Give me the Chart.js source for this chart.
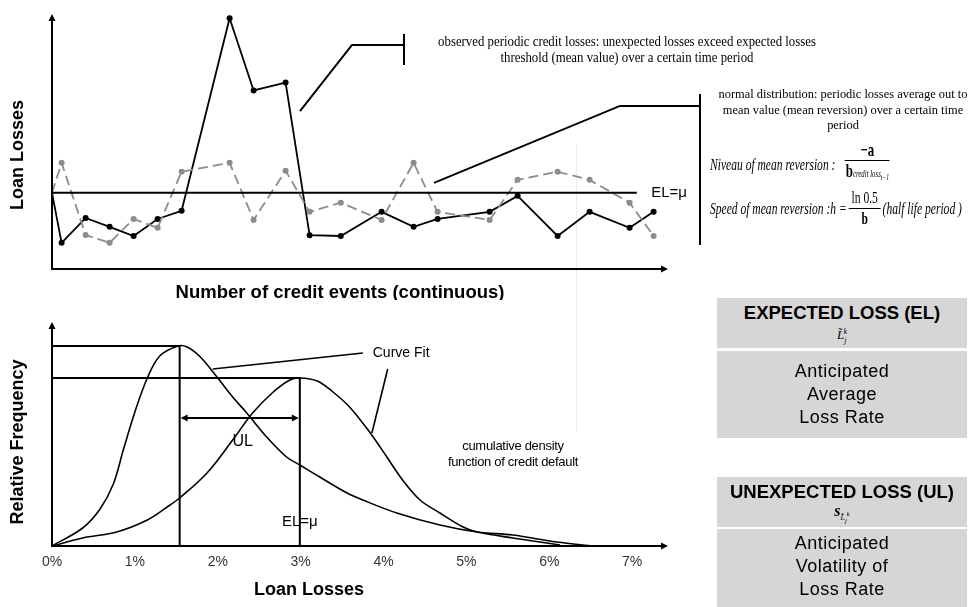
<!DOCTYPE html>
<html lang="en">
<head>
<meta charset="UTF-8">
<title>Expected and unexpected credit loss</title>
<script src="https://cdn.jsdelivr.net/npm/chart.js"></script>
<style>
  body { margin:0; width:980px; height:607px; position:relative; overflow:hidden; background:#fff; color:#000; font-family: Arial, 'Liberation Sans', sans-serif; }
  canvas { position:absolute; left:0; }
  #topChart { top:0; }
  #bottomChart { top:300px; }
  .note { position:absolute; font-family:'Liberation Serif', 'Times New Roman', serif; text-align:center; white-space:nowrap; transform-origin:center top; }
  .formula { position:absolute; left:710px; font: italic 17px 'Liberation Serif', serif; white-space:nowrap; display:flex; align-items:center; transform: scaleX(0.68); transform-origin:left center; }
  .frac { display:inline-flex; flex-direction:column; align-items:center; margin:0 3px; font-style:normal; }
  .frac .num { border-bottom:1.3px solid #000; padding:0 4px 1px; line-height:18px; text-align:center; }
  .frac .den { line-height:20px; }
  .tiny { font-size:10px; font-style:italic; font-weight:normal; }
  .box { position:absolute; left:717px; width:250px; background:#d6d6d6; text-align:center; }
  .head { font-weight:bold; font-size:18.5px; }
  .body { font-size:18px; line-height:23px; letter-spacing:0.5px; }
  .sym { font: italic 13px 'Liberation Serif', serif; line-height:15px; }
  .faint { position:absolute; left:576px; top:145px; width:1px; height:287px; background:#ececec; }
  .cdf { position:absolute; left:428px; top:438px; width:170px; text-align:center; font-size:13px; line-height:16px; letter-spacing:-0.3px; }
</style>
</head>
<body>
<div class="faint"></div>
<canvas id="topChart" width="720" height="300"></canvas>
<canvas id="bottomChart" width="720" height="307"></canvas>

<div class="note" style="left:417px; top:34px; width:420px; font-size:14px; line-height:16px; transform:scaleX(0.915);">
  observed periodic credit losses: unexpected losses exceed expected losses<br>threshold (mean value) over a certain time period
</div>
<div class="note" style="left:703px; top:86px; width:280px; font-size:13.5px; line-height:15.5px; transform:scaleX(0.92);">
  normal distribution: periodic losses average out to<br>mean value (mean reversion) over a certain time<br>period
</div>

<div class="formula" style="top:141px;">
  <span>Niveau of mean reversion :</span>
  <span class="frac" style="margin-left:14px;"><span class="num" style="min-width:58px; font-size:19px;"><b>&minus;a</b></span><span class="den"><b style="font-size:19px;">b</b><span class="tiny">credit loss<sub>t&minus;1</sub></span></span></span>
</div>
<div class="formula" style="top:189px;">
  <span>Speed of mean reversion :h =</span>
  <span class="frac"><span class="num">ln 0.5</span><span class="den"><b>b</b></span></span>
  <span>(half life period )</span>
</div>

<div class="box" style="top:298px; height:50px;">
  <div class="head" style="padding-top:4px;">EXPECTED LOSS (EL)</div>
  <div class="sym">L&#771;<sub style="font-size:8px">j</sub><sup style="font-size:8px; margin-left:-3px">k</sup></div>
</div>
<div class="box body" style="top:351px; height:87px; padding-top:9px; box-sizing:border-box;">
  Anticipated<br>Average<br>Loss Rate
</div>
<div class="box" style="top:477px; height:50px;">
  <div class="head" style="padding-top:4px;">UNEXPECTED LOSS (UL)</div>
  <div class="sym"><b style="font-size:16px">s</b><sub style="font-size:8px">L&#771;<sub>j</sub><sup>k</sup></sub></div>
</div>
<div class="box body" style="top:529px; height:78px; padding-top:3px; box-sizing:border-box;">
  Anticipated<br>Volatility of<br>Loss Rate
</div>

<div class="cdf">cumulative density<br>function of credit default</div>

<script>
// ---- top chart: periodic credit losses over (continuous) credit events
const eventPos = [0, 1.2, 4.2, 7.2, 10.2, 13.2, 16.2, 22.2, 25.2, 29.2, 32.2, 36.1, 41.2, 45.2, 48.2, 54.7, 58.2, 63.2, 67.2, 72.2, 75.2];
const observedLosses = [3.0, 1.03, 2.01, 1.66, 1.3, 1.97, 2.29, 9.87, 7.03, 7.34, 1.33, 1.3, 2.25, 1.66, 1.97, 2.25, 2.88, 1.3, 2.25, 1.62, 2.25];
const meanRevertingLosses = [3.0, 4.18, 1.34, 1.03, 1.97, 1.62, 3.83, 4.18, 1.93, 3.87, 2.25, 2.61, 1.93, 4.18, 2.25, 1.93, 3.51, 3.83, 3.51, 2.61, 1.3];
const expectedLoss = 3;
const elLineEnd = 73.1;

// ---- bottom chart: loss distributions (loan losses in %)
const fitLoss = [0, 0.37, 0.58, 0.74, 0.86, 1.0, 1.15, 1.3, 1.52, 1.63, 1.79, 1.99, 2.18, 2.35, 2.59, 2.83, 2.99, 3.23, 3.56, 3.75, 4.16, 4.68, 5.13, 5.56, 6.09, 6.53];
const fitFreq = [0, 0.9, 1.85, 3.1, 4.8, 6.7, 8.4, 9.5, 10, 9.95, 9.45, 8.45, 7.45, 6.65, 5.45, 4.45, 4.05, 3.45, 2.65, 2.3, 1.65, 1.05, 0.7, 0.55, 0.2, 0];
const cdfLoss = [0, 0.37, 0.78, 1.15, 1.39, 1.54, 1.87, 2.18, 2.42, 2.67, 2.87, 2.99, 3.2, 3.39, 3.59, 3.84, 4.04, 4.23, 4.44, 4.68, 4.96, 5.13, 5.56, 6.13];
const cdfFreq = [0, 0.4, 0.7, 1.3, 1.95, 2.4, 3.65, 5.3, 6.65, 7.7, 8.3, 8.4, 8.25, 7.7, 6.95, 5.65, 4.45, 3.3, 2.3, 1.65, 0.95, 0.7, 0.4, 0.05];
const peakFit = { x: 1.54, y: 10 };
const peakEL = { x: 2.99, y: 8.4 };
const ulLevel = 6.4;
const pctTicks = ['0%', '1%', '2%', '3%', '4%', '5%', '6%', '7%'];

const pts = (xs, ys) => xs.map((v, i) => ({ x: v, y: ys[i] }));

function arrowHead(ctx, x, y, dir) {
  const s = 7, w = 3.5;
  ctx.beginPath();
  if (dir === 'up') { ctx.moveTo(x, y); ctx.lineTo(x - w, y + s); ctx.lineTo(x + w, y + s); }
  else if (dir === 'right') { ctx.moveTo(x, y); ctx.lineTo(x - s, y - w); ctx.lineTo(x - s, y + w); }
  else { ctx.moveTo(x, y); ctx.lineTo(x + s, y - w); ctx.lineTo(x + s, y + w); }
  ctx.closePath();
  ctx.fill();
}

function polyline(ctx, list) {
  ctx.beginPath();
  list.forEach((p, i) => i ? ctx.lineTo(p[0], p[1]) : ctx.moveTo(p[0], p[1]));
  ctx.stroke();
}

function drawAxes(ctx, a) {
  ctx.lineWidth = 2;
  polyline(ctx, [[a.left, a.top + 5], [a.left, a.bottom], [a.right - 5, a.bottom]]);
  arrowHead(ctx, a.left, a.top - 1, 'up');
  arrowHead(ctx, a.right + 1, a.bottom, 'right');
}

function vText(ctx, text, x, y) {
  ctx.save();
  ctx.translate(x, y);
  ctx.rotate(-Math.PI / 2);
  ctx.fillText(text, 0, 0);
  ctx.restore();
}

const topDecor = {
  id: 'topDecor',
  afterDatasetsDraw(chart) {
    const { ctx, chartArea: a, scales: { x, y } } = chart;
    const P = (vx, vy) => [x.getPixelForValue(vx), y.getPixelForValue(vy)];
    ctx.save();
    ctx.strokeStyle = '#000';
    ctx.fillStyle = '#000';
    drawAxes(ctx, a);

    // callouts
    ctx.lineWidth = 2;
    polyline(ctx, [P(31, 6.22), P(37.5, 8.82), P(44, 8.82)]);
    polyline(ctx, [P(44, 8.03), P(44, 9.25)]);
    polyline(ctx, [P(47.75, 3.39), P(71, 6.42), P(81, 6.42)]);
    polyline(ctx, [P(81, 6.89), P(81, 0.94)]);

    ctx.font = '15px Arial';
    ctx.textAlign = 'left';
    ctx.textBaseline = 'middle';
    const el = P(elLineEnd + 1.8, expectedLoss);
    ctx.fillText('EL=\u03bc', el[0], el[1]);

    ctx.font = 'bold 18.5px Arial';
    ctx.textAlign = 'center';
    ctx.fillText('Number of credit events (continuous)', 340, 293);
    ctx.font = 'bold 18px Arial';
    vText(ctx, 'Loan Losses', 18, 155);
    ctx.restore();
  }
};

const bottomDecor = {
  id: 'bottomDecor',
  afterDatasetsDraw(chart) {
    const { ctx, chartArea: a, scales: { x, y } } = chart;
    const P = (vx, vy) => [x.getPixelForValue(vx), y.getPixelForValue(vy)];
    ctx.save();
    ctx.strokeStyle = '#000';
    ctx.fillStyle = '#000';
    drawAxes(ctx, a);

    // UL span arrow
    const l = P(peakFit.x, ulLevel), r = P(peakEL.x, ulLevel);
    ctx.lineWidth = 2;
    polyline(ctx, [[l[0] + 4, l[1]], [r[0] - 4, r[1]]]);
    arrowHead(ctx, l[0] + 1, l[1], 'left');
    arrowHead(ctx, r[0] - 1, r[1], 'right');

    // curve fit callouts
    ctx.lineWidth = 1.6;
    polyline(ctx, [P(1.94, 8.85), P(3.75, 9.65)]);
    polyline(ctx, [P(4.05, 8.85), P(3.86, 5.65)]);

    ctx.textBaseline = 'middle';
    ctx.textAlign = 'left';
    ctx.font = '14px Arial';
    const cf = P(3.87, 9.65);
    ctx.fillText('Curve Fit', cf[0], cf[1]);

    ctx.textAlign = 'center';
    ctx.font = '16px Arial';
    const ul = P(2.3, 5.2);
    ctx.fillText('UL', ul[0], ul[1]);
    ctx.font = '15px Arial';
    const elp = P(peakEL.x, 1.2);
    ctx.fillText('EL=\u03bc', elp[0], elp[1]);

    ctx.font = '14px Arial';
    ctx.fillStyle = '#333';
    pctTicks.forEach((t, i) => ctx.fillText(t, x.getPixelForValue(i), a.bottom + 16));

    ctx.fillStyle = '#000';
    ctx.font = 'bold 18px Arial';
    ctx.fillText('Loan Losses', 309, 290);
    vText(ctx, 'Relative Frequency', 18, 142);
    ctx.restore();
  }
};

const baseOptions = (pad, xMax, yMax) => ({
  responsive: false,
  animation: false,
  layout: { padding: pad },
  plugins: { legend: { display: false }, tooltip: { enabled: false } },
  scales: {
    x: { type: 'linear', display: false, min: 0, max: xMax },
    y: { display: false, min: 0, max: yMax }
  }
});

new Chart(document.getElementById('topChart'), {
  type: 'line',
  data: {
    datasets: [
      {
        data: [{ x: 0, y: expectedLoss }, { x: elLineEnd, y: expectedLoss }],
        borderColor: '#000', borderWidth: 2, pointRadius: 0, clip: false
      },
      {
        data: pts(eventPos, meanRevertingLosses),
        borderColor: '#8c8c8c', borderWidth: 1.8, borderDash: [10, 5],
        pointRadius: eventPos.map((v, i) => i ? 3 : 0),
        pointBackgroundColor: '#8c8c8c', pointBorderWidth: 0, tension: 0, clip: false
      },
      {
        data: pts(eventPos, observedLosses),
        borderColor: '#000', borderWidth: 1.8,
        pointRadius: eventPos.map((v, i) => i ? 3 : 0),
        pointBackgroundColor: '#000', pointBorderWidth: 0, tension: 0, clip: false
      }
    ]
  },
  options: baseOptions({ left: 52, top: 15, right: 53, bottom: 31 }, 76.875, 10),
  plugins: [topDecor]
});

new Chart(document.getElementById('bottomChart'), {
  type: 'line',
  data: {
    datasets: [
      {
        data: [{ x: 0, y: peakFit.y }, peakFit, { x: peakFit.x, y: 0 }],
        borderColor: '#000', borderWidth: 2, pointRadius: 0, clip: false
      },
      {
        data: [{ x: 0, y: peakEL.y }, peakEL, { x: peakEL.x, y: 0 }],
        borderColor: '#000', borderWidth: 2, pointRadius: 0, clip: false
      },
      {
        data: pts(fitLoss, fitFreq),
        borderColor: '#000', borderWidth: 1.6, pointRadius: 0,
        tension: 0.35, clip: false
      },
      {
        data: pts(cdfLoss, cdfFreq),
        borderColor: '#000', borderWidth: 1.6, pointRadius: 0,
        tension: 0.35, clip: false
      }
    ]
  },
  options: baseOptions({ left: 52, top: 23, right: 53, bottom: 61 }, 7.42, 11.15),
  plugins: [bottomDecor]
});
</script>
</body>
</html>
